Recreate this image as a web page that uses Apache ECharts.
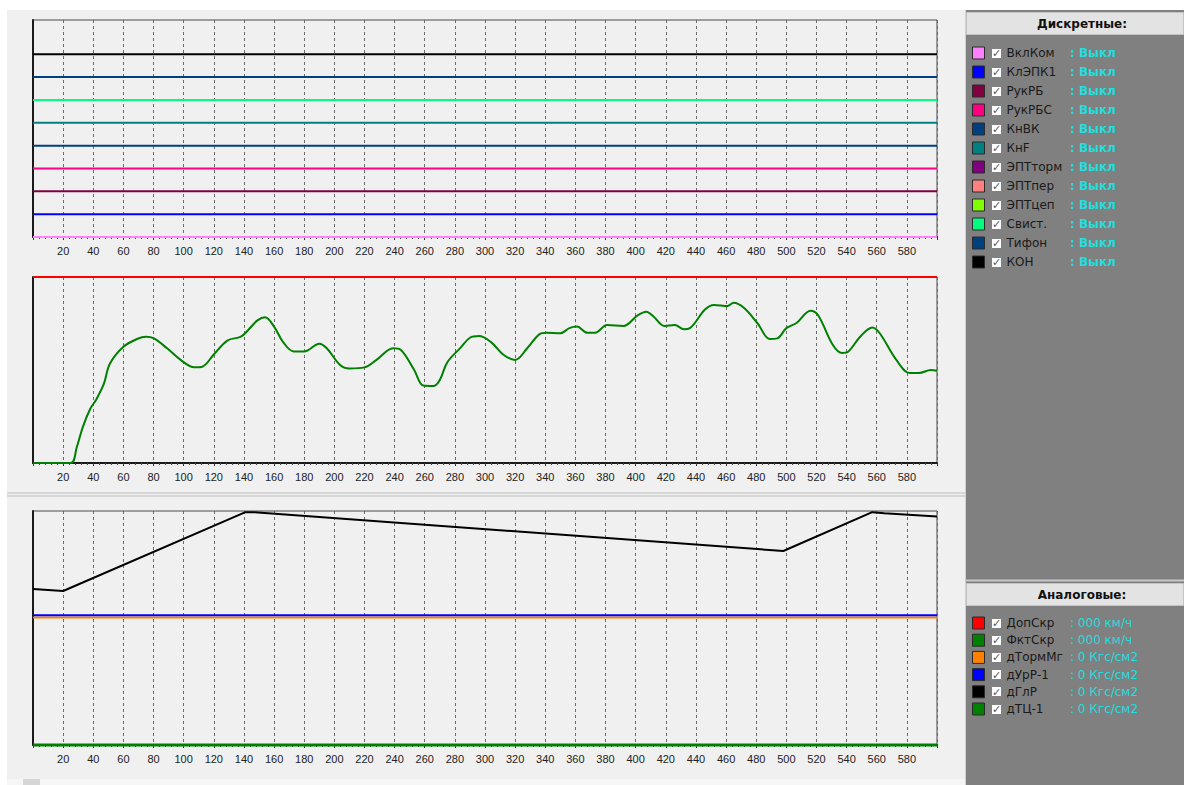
<!DOCTYPE html>
<html>
<head>
<meta charset="utf-8">
<script src="https://cdn.jsdelivr.net/npm/echarts@6/dist/echarts.min.js"></script>
<style>
html, body { margin: 0; padding: 0; background: #fff; }
#chart { width: 1184px; height: 785px; }
</style>
</head>
<body>
<div id="chart"></div>
<script>
// ось времени, с
const xMin = 0;
const xMax = 600;
const xStep = 20;

// дискретные сигналы (уровень линии на верхнем графике, null - линия не рисуется)
const discreteNames = ['ВклКом', 'КлЭПК1', 'РукРБ', 'РукРБС', 'КнВК', 'КнF', 'ЭПТторм', 'ЭПТпер', 'ЭПТцеп', 'Свист.', 'Тифон', 'КОН'];
const discreteColors = ['#ff80ff', '#0000ff', '#800040', '#ff0080', '#004080', '#008080', '#800080', '#ff8080', '#80ff00', '#00ff80', '#004080', '#000000'];
const discreteLevels = [0, 1, 2, 3, 4, 5, null, null, null, 6, 7, 8];
const discreteValues = [': Выкл', ': Выкл', ': Выкл', ': Выкл', ': Выкл', ': Выкл', ': Выкл', ': Выкл', ': Выкл', ': Выкл', ': Выкл', ': Выкл'];

// аналоговые сигналы
const analogNames = ['ДопСкр', 'ФктСкр', 'дТормМг', 'дУрР-1', 'дГлР', 'дТЦ-1'];
const analogColors = ['#ff0000', '#008000', '#ff8000', '#0000ff', '#000000', '#008000'];
const analogValues = [': 000 км/ч', ': 000 км/ч', ': 0 Кгс/см2', ': 0 Кгс/см2', ': 0 Кгс/см2', ': 0 Кгс/см2'];

// скорость, км/ч
const speedMax = 120;
const speedLimit = 120;
const speedX = [0, 25, 29, 33, 38, 42, 47, 51, 60, 69, 75, 80, 89, 98, 107, 112, 120, 129, 138, 143, 149, 154, 160, 166, 173, 180, 190, 195, 204, 210, 220, 228, 239, 244, 253, 259, 266, 270, 275, 284, 290, 296, 304, 312, 320, 328, 336, 341, 350, 356, 361, 368, 373, 381, 392, 401, 407, 412, 419, 426, 432, 436, 446, 452, 461, 465, 472, 481, 489, 494, 500, 507, 516, 521, 531, 537, 541, 549, 557, 562, 573, 582, 588, 596, 600];
const speedY = [0, 0, 10, 23, 35, 41, 51, 64, 75, 80, 81.5, 80.5, 74, 66.5, 61.7, 62, 70, 79, 81.5, 86, 92, 94, 88, 78, 72, 72, 77, 74, 63, 61, 61.7, 66.5, 74, 73, 60, 50, 49.7, 53.5, 65, 74.6, 80.8, 81.9, 78, 70, 66.5, 74, 83, 84, 83.7, 87, 88, 84, 84, 89, 88.4, 95, 97.6, 94.4, 88.4, 89, 86.3, 87, 99, 102, 101.3, 103.4, 100, 90, 80, 80.4, 87, 90.5, 98.3, 95.5, 76, 71, 71.8, 81.5, 87.5, 83.7, 66.5, 58, 58, 60, 59.5];

// давления, Кгс/см2
const pressMax = 10;
const glrX = [0, 20, 141, 147, 498, 557, 565, 600];
const glrY = [6.67, 6.58, 9.95, 9.95, 8.29, 9.95, 9.9, 9.76];
const tormLevel = 5.45;
const urLevel = 5.54;
const tcLevel = 0;

const FONT = 'DejaVu Sans';
const chart = echarts.init(document.getElementById('chart'), null, { renderer: 'svg' });

const grids = [
	{ left: 33, width: 904, top: 20, height: 217 },
	{ left: 33, width: 904, top: 277, height: 186 },
	{ left: 33, width: 904, top: 511, height: 234 }
].map((g) => ({ ...g, show: true, borderColor: '#4a4a4a', borderWidth: 1, backgroundColor: 'transparent' }));

let makeX = (i) => ({
	type: 'value',
	gridIndex: i,
	min: xMin,
	max: xMax,
	interval: xStep,
	axisLine: { show: true, onZero: false, lineStyle: { color: '#1a1a1a', width: 2 } },
	axisTick: { show: true, length: 3, lineStyle: { color: '#333' } },
	minorTick: { show: true, splitNumber: 5, length: 2, lineStyle: { color: '#444' } },
	axisLabel: {
		color: '#222',
		fontSize: 11,
		fontFamily: 'Liberation Sans',
		margin: 8,
		formatter: (v) => (v === xMin || v === xMax ? '' : String(v))
	},
	splitLine: { show: true, lineStyle: { color: '#6a6a6a', type: [3, 3], width: 1 } }
});

let makeY = (i, max) => ({
	type: 'value',
	gridIndex: i,
	min: 0,
	max: max,
	axisLine: { show: true, onZero: false, lineStyle: { color: '#1a1a1a', width: 2 } },
	axisTick: { show: false },
	axisLabel: { show: false },
	splitLine: { show: false }
});

let flat = (v) => [[xMin, v], [xMax, v]];
let pairs = (xs, ys) => xs.map((x, i) => [x, ys[i]]);

let lineSeries = (name, color, grid, data, extra) => ({
	name,
	type: 'line',
	xAxisIndex: grid,
	yAxisIndex: grid,
	color,
	symbol: 'none',
	animation: false,
	clip: false,
	lineStyle: { width: 2, color },
	data,
	...extra
});

const series = [];
discreteNames.forEach((name, i) => {
	let lvl = discreteLevels[i];
	series.push(lineSeries(name, discreteColors[i], 0, lvl == null ? [] : flat(lvl)));
});
series.push(lineSeries(analogNames[0], analogColors[0], 1, flat(speedLimit)));
series.push(lineSeries(analogNames[1], analogColors[1], 1, pairs(speedX, speedY), { smooth: 0.35 }));
series.push(lineSeries(analogNames[2], analogColors[2], 2, flat(tormLevel)));
series.push(lineSeries(analogNames[3], analogColors[3], 2, flat(urLevel)));
series.push(lineSeries(analogNames[4], analogColors[4], 2, pairs(glrX, glrY)));
series.push(lineSeries(analogNames[5], analogColors[5], 2, flat(tcLevel), { lineStyle: { width: 3, color: analogColors[5] } }));

// легенда: цветной квадрат + имя; галочка и значение рисуются рядом через graphic
const ROW_H = 14;
let makeLegend = (names, top, gap) => ({
	orient: 'vertical',
	left: 972,
	top: top,
	padding: 0,
	itemWidth: 12,
	itemHeight: 12,
	itemGap: gap,
	icon: 'rect',
	itemStyle: { borderColor: '#2a2a2a', borderWidth: 1 },
	data: names,
	textStyle: { fontFamily: FONT, fontSize: 12, color: '#1a1a1a', lineHeight: ROW_H, padding: [0, 0, 0, 17] }
});

let legendExtras = (values, top, gap, bold) => {
	let out = [];
	values.forEach((v, i) => {
		let cy = top + ROW_H / 2 + i * (ROW_H + gap);
		out.push({
			type: 'rect',
			z: 5,
			shape: { x: 991.5, y: Math.round(cy - 5.5) + 0.5, width: 10, height: 10 },
			style: { fill: '#fff', stroke: '#808080', lineWidth: 1 }
		});
		out.push({
			type: 'text',
			z: 6,
			style: { text: '✓', x: 996.5, y: cy + 0.5, fill: '#5a5a5a', font: '11px "DejaVu Sans"', textAlign: 'center', textVerticalAlign: 'middle', align: 'center', verticalAlign: 'middle' }
		});
		out.push({
			type: 'text',
			z: 6,
			style: { text: v, x: 1070, y: cy, fill: '#22dede', font: (bold ? 'bold ' : '') + '12px "DejaVu Sans"', textAlign: 'left', textVerticalAlign: 'middle', align: 'left', verticalAlign: 'middle' }
		});
	});
	return out;
};

// оформление панелей
let txt = (text, x, y) => ({
	type: 'text',
	z: -1,
	style: { text, x, y, fill: '#111', font: 'bold 12px "DejaVu Sans"', textAlign: 'center', textVerticalAlign: 'middle', align: 'center', verticalAlign: 'middle' }
});
let box = (x, y, w, h, fill, stroke) => ({
	type: 'rect',
	z: -10,
	shape: { x, y, width: w, height: h },
	style: { fill, stroke: stroke || null, lineWidth: stroke ? 1 : 0 }
});

const DISC_TOP = 46, DISC_GAP = 5;
const AN_TOP = 616, AN_GAP = 3.2;

const graphic = [
	box(7, 10, 958, 775, '#f0f0f0'),
	box(7, 492.5, 958, 1, '#bcbcbc'),
	box(7, 495.5, 958, 1, '#bcbcbc'),
	box(7, 779, 958, 6, '#f6f6f6'),
	box(23, 779, 17, 6, '#d6d6d6'),
	box(965, 10, 219, 775, '#808080'),
	box(965, 10, 1, 775, '#d0d0d0'),
	box(966.5, 12.5, 217, 22, '#e3e3e3', '#c4c4c4'),
	txt('Дискретные:', 1082, 24),
	box(965, 579.5, 219, 2, '#c8c8c8'),
	box(966.5, 583.5, 217, 22, '#e3e3e3', '#c4c4c4'),
	txt('Аналоговые:', 1082, 595),
	...legendExtras(discreteValues, DISC_TOP, DISC_GAP, true),
	...legendExtras(analogValues, AN_TOP, AN_GAP, false)
];

chart.setOption({
	animation: false,
	backgroundColor: '#ffffff',
	grid: grids,
	xAxis: [makeX(0), makeX(1), makeX(2)],
	yAxis: [makeY(0, 9.5), makeY(1, speedMax), makeY(2, pressMax)],
	legend: [makeLegend(discreteNames, DISC_TOP, DISC_GAP), makeLegend(analogNames, AN_TOP, AN_GAP)],
	graphic: graphic,
	series: series
});
</script>
</body>
</html>
